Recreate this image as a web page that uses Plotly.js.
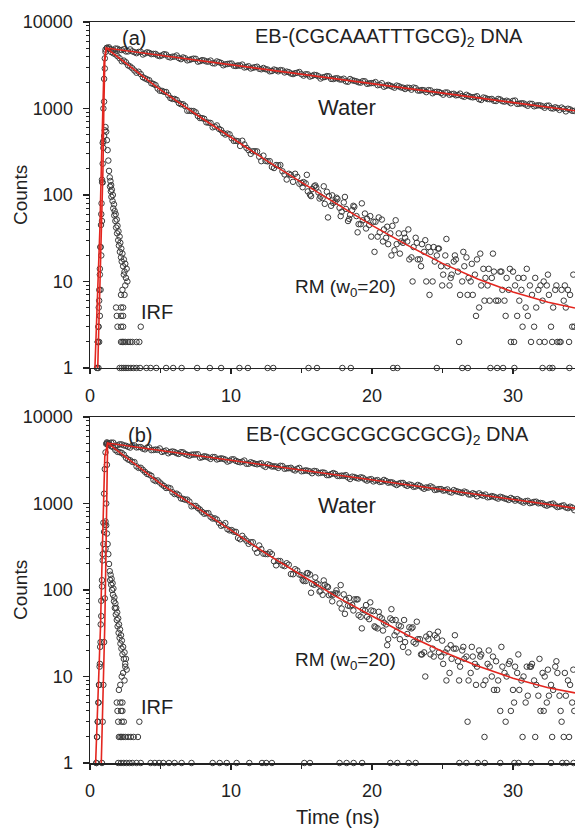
<!DOCTYPE html>
<html><head><meta charset="utf-8">
<script src="https://cdn.plot.ly/plotly-3.0.1.min.js"></script>
<style>html,body{margin:0;padding:0;background:#fff}#chart{width:575px;height:836px}</style>
</head><body><div id="chart"></div>
<script>
// ---------- data ----------
const tGrid = [1.2,1.5,1.8,2.1,2.4,2.7,3.0,3.3,3.6,3.9,4.2,4.5,4.8,5.1,5.4,5.7,6.0,6.3,6.6,6.9,7.2,7.5,7.8,8.1,8.4,8.7,9.0,9.3,9.6,9.9,10.2,10.5,10.8,11.1,11.4,11.7,12.0,12.3,12.6,12.9,13.2,13.5,13.8,14.1,14.4,14.7,15.0,15.3,15.6,15.9,16.2,16.5,16.8,17.1,17.4,17.7,18.0,18.3,18.6,18.9,19.2,19.5,19.8,20.1,20.4,20.7,21.0,21.3,21.6,21.9,22.2,22.5,22.8,23.1,23.4,23.7,24.0,24.3,24.6,24.9,25.2,25.5,25.8,26.1,26.4,26.7,27.0,27.3,27.6,27.9,28.2,28.5,28.8,29.1,29.4,29.7,30.0,30.3,30.6,30.9,31.2,31.5,31.8,32.1,32.4,32.7,33.0,33.3,33.6,33.9,34.2];
const tHalf = [1.35,1.65,1.95,2.25,2.55,2.85,3.15,3.45,3.75,4.05,4.35,4.65,4.95,5.25,5.55,5.85,6.15,6.45,6.75,7.05,7.35,7.65,7.95,8.25,8.55,8.85,9.15,9.45,9.75,10.05,10.35,10.65,10.95,11.25,11.55,11.85,12.15,12.45,12.75,13.05,13.35,13.65,13.95,14.25,14.55,14.85,15.15,15.45,15.75,16.05,16.35,16.65,16.95,17.25,17.55,17.85,18.15,18.45,18.75,19.05,19.35,19.65,19.95,20.25,20.55,20.85,21.15,21.45,21.75,22.05,22.35,22.65,22.95,23.25,23.55,23.85,24.15,24.45,24.75,25.05,25.35,25.65,25.95,26.25,26.55,26.85,27.15,27.45,27.75,28.05,28.35,28.65,28.95,29.25,29.55,29.85,30.15,30.45,30.75,31.05,31.35,31.65,31.95,32.25,32.55,32.85,33.15,33.45,33.75,34.05,34.35];
const tExtra = [15.08,15.38,15.68,15.98,16.28,16.58,16.88,17.18,17.48,17.78,18.08,18.38,18.68,18.98,19.28,19.58,19.88,20.18,20.48,20.78,21.08,21.38,21.68,21.98,22.28,22.58,22.88,23.18,23.48,23.78,24.08,24.38,24.68,24.98,25.28,25.58,25.88,26.18,26.48,26.78,27.08,27.38,27.68,27.98,28.28,28.58,28.88,29.18,29.48,29.78,30.08,30.38,30.68,30.98,31.28,31.58,31.88,32.18,32.48,32.78,33.08,33.38,33.68,33.98,34.28];

// panel (a)
const waterA = [5030,4820,4930,4760,4850,4570,4580,4360,4510,4330,4400,4280,4100,4110,4200,3890,3980,3830,3890,3600,3720,3750,3530,3590,3480,3340,3500,3360,3240,3300,3120,3150,3220,3020,2900,3000,2880,2940,2820,2710,2770,2780,2610,2630,2500,2590,2490,2490,2340,2450,2360,2290,2370,2200,2230,2170,2210,2040,2120,2060,1990,2060,1950,1970,1860,1960,1830,1830,1740,1810,1740,1740,1650,1720,1610,1620,1630,1500,1560,1510,1530,1440,1480,1430,1390,1440,1360,1360,1280,1340,1285,1290,1220,1270,1200,1200,1225,1130,1150,1110,1135,1060,1090,1058,1075,1008,1032,963,988,994,941];
const waterA2 = [5090,4720,4910,4740,4570,4820,4480,4510,4210,4460,4250,4280,4030,4240,3960,3970,4100,3720,3810,3650,3770,3480,3620,3500,3580,3320,3430,3160,3270,3310,3100,3130,2980,3080,2960,3040,2840,2850,2690,2820,2690,2760,2670,2540,2560,2640,2400,2480,2380,2430,2220,2310,2350,2190,2240,2160,2060,2190,2090,2010,2070,1930,1965,2020,1880,1785,1875,1785,1840,1755,1680,1730,1745,1615,1635,1545,1620,1550,1550,1445,1530,1470,1420,1485,1365,1395,1345,1385,1255,1320,1280,1230,1290,1215,1230,1150,1235,1135,1145,1075,1130,1080,1085,1020,1080,1000,1010,1025,926,974,938];
const rmA = [5020,4500,4230,3810,3580,3150,2920,2590,2500,2230,2120,1920,1700,1600,1550,1320,1290,1156,1119,942,936,902,775,760,686,606,637,562,500,502,422,418,424,350,299,320,277,285,245,211,222,222,173,176,142,162,138,136,101,126,107,92,109,75,84,71,82,50,67,57,46,61,45,49,33,52,32,36,23,36,28,29,19,32,18,22,25,10,20,15,20,9,17,13,10,19,10,12,5,14,9,11,6,13,6,8,13,4,8,5,9,3,8,6,9,3,8,2,6,8,3];
const rmA2 = [4880,4350,4030,3520,3420,3060,2750,2660,2300,2170,1960,1865,1605,1560,1425,1290,1255,1120,1065,942,934,819,774,692,680,617,581,520,513,453,423,369,384,330,320,319,246,248,246,205,220,188,151,171,176,135,141,110,117,122,96,79,97,81,90,64,69,59,73,46,51,53,33,49,37,40,27,44,27,29,32,18,25,18,27,10,22,17,24,12,15,12,18,7,15,11,7,18,9,11,6,13,6,8,11,2,9,6,11,4,7,5,9,2,7,5,2,8,5,7,3];
const rmAExtra = [123,171,97,129,91,126,55,99,93,57,95,53,75,37,80,41,57,22,55,29,43,20,51,21,36,40,10,28,15,30,7,25,24,9,31,11,20,2,22,7,16,4,21,6,14,21,1,13,4,14,2,11,3,14,2,11,2,10,12,2,9,2,9,2,12];
const riseAt = [0.5,0.55,0.6,0.65,0.7,0.75,0.8,0.85,0.9,0.95,1.0,1.05,1.1,0.6,0.65,0.7,0.75,0.8,0.85,0.9,0.95,1.0,1.05,1.1];
const riseAc = [1,2,3,6,12,25,60,150,400,1000,2200,3800,4800,1,2,4,8,20,50,140,420,1200,2900,4500];
const irfAt = [0.5,0.55,0.6,0.62,0.66,0.7,0.74,0.78,0.82,0.86,0.9,0.95,1.0,1.05,1.1,1.15,1.2,1.25,1.3,1.35,
  1.4,1.42,1.45,1.48,1.5,1.52,1.55,1.6,1.62,1.65,1.7,1.72,1.75,1.8,1.82,1.85,1.9,1.92,1.95,2.0,2.02,2.05,2.1,2.12,2.15,2.2,2.22,2.25,2.3,2.35,2.4,2.45,2.5,2.55,2.6,2.65,2.4,2.5,2.3,2.2,2.45,
  1.85,2.2,2.35,1.9,2.2,2.35,1.95,2.2,2.35,3.6,2.2,2.3,2.4,2.5,2.7,2.85,3.0,3.3,3.5,
  2.1,2.25,2.4,2.55,2.7,2.9,3.1,3.3,3.55,4.0,4.3,4.7,5.4,5.9,6.5,7.6,8.5,9.3,10.6,11.2,12.6,13.0,15.5,16.1,17.9,18.5,21.5,21.8,24.6,26.4,26.8,28.4,29.3,30.1,32.1,32.6,32.8,34.0];
const irfAc = [1,2,3,5,8,14,25,45,80,140,230,350,480,560,610,540,430,330,250,190,
  160,125,145,110,130,95,115,85,100,70,78,58,65,50,60,42,52,36,44,30,38,26,33,22,28,19,24,17,21,15,18,13,16,11,14,10,12,9,8,7,7,
  5,5,5,4,4,4,3,3,3,3,2,2,2,2,2,2,2,2,2,
  1,1,1,1,1,1,1,1,1,1,1,1,1,1,1,1,1,1,1,1,1,1,1,1,1,1,1,1,1,1,1,1,1,1,1,1,1,1];
const fitARmT = [0.35,0.5,0.6,0.7,0.8,0.9,1.0,1.15,3,5,7.8,10,12.5,15,17.5,20,22.5,25,27.5,30,32.5,34.4];
const fitARmC = [1,4,12,40,200,1000,3500,5000,2917,1641,798,466,251,140,78.2,44.5,26.3,16.2,10.7,7.57,5.75,4.94];
const fitAWT = [0.55,0.65,0.75,0.85,0.92,0.98,1.05,1.15,5,10,15,20,25,30,34.4];
const fitAWC = [1,4,12,40,200,1000,3500,5000,4119,3204,2492,1939,1508,1173,940];

// panel (b)
const waterB = [4960,5060,4660,4840,4700,4530,4690,4450,4490,4230,4460,4160,4170,3950,4100,3940,3940,3740,3900,3650,3670,3690,3390,3520,3400,3450,3230,3330,3220,3120,3240,3040,3050,2880,3000,2880,2880,2740,2840,2680,2675,2730,2520,2560,2470,2520,2360,2420,2350,2380,2240,2290,2130,2190,2200,2080,2090,2000,2045,1975,2010,1895,1895,1800,1865,1790,1820,1765,1690,1695,1730,1600,1635,1575,1600,1480,1525,1535,1450,1470,1425,1365,1430,1370,1325,1345,1270,1285,1310,1230,1180,1220,1170,1195,1145,1100,1125,1125,1055,1065,1010,1045,1005,1005,944,986,950,920,952,884,897];
const waterB2 = [4990,5050,4710,4820,4650,4430,4710,4490,4310,4430,4140,4210,4330,4020,3810,4000,3810,3920,3740,3570,3680,3710,3430,3480,3280,3440,3280,3290,3050,3240,3110,3000,3140,2880,2940,2840,2920,2650,2780,2690,2580,2710,2550,2590,2410,2580,2380,2390,2240,2360,2260,2260,2130,2250,2085,2105,2130,1920,2020,1945,1985,1840,1915,1845,1775,1875,1740,1750,1635,1730,1645,1660,1560,1640,1530,1535,1580,1435,1470,1410,1455,1340,1390,1345,1375,1275,1315,1210,1255,1270,1190,1200,1140,1175,1130,1160,1080,1085,1025,1075,1025,1050,1015,964,971,1000,910,940,901,919,839];
const rmB = [5090,4600,4150,3920,3670,3230,3030,2690,2590,2320,2160,1880,1850,1661,1512,1497,1287,1247,1131,1109,928,938,851,762,773,671,653,553,593,489,472,400,423,371,357,300,327,263,260,260,193,216,189,196,152,168,148,127,151,115,116,88,110,89,92,70,89,66,67,78,49,58,46,57,36,47,40,47,30,39,22,31,36,24,27,19,27,21,28,17,19,11,21,15,20,17,11,14,20,8,14,10,15,4,11,14,7,11,9,5,13,9,6,11,5,8,13,6,2,9,5];
const rmB2 = [4770,4470,3960,3850,3380,3160,3010,2580,2450,2200,2090,1820,1750,1595,1525,1350,1300,1145,1107,1052,939,888,802,772,702,674,598,564,505,493,470,386,393,342,357,270,297,261,273,215,217,193,204,153,174,151,127,157,118,120,98,115,87,88,91,61,77,65,78,51,59,49,58,37,49,42,27,45,33,38,25,37,25,27,18,29,18,30,19,14,21,16,21,13,16,9,17,13,18,9,13,7,9,13,10,4,13,7,10,6,14,8,4,10,6,7,11,3,6,8,4];
const rmBExtra = [131,156,93,140,96,129,108,74,99,114,53,81,58,78,36,67,72,38,56,34,23,60,45,27,45,19,37,43,18,10,31,17,33,26,9,23,30,9,22,3,22,8,17,2,20,17,7,22,3,15,5,18,2,13,13,2,16,4,12,2,15,4,11,2,12];
const riseBt = [0.45,0.5,0.55,0.6,0.65,0.7,0.75,0.8,0.85,0.9,0.95,1.0,1.05,1.1,1.15,0.85,0.9,0.95,1.0,1.05,1.1,1.15,1.2,1.25];
const riseBc = [1,2,3,5,8,14,25,50,110,260,600,1300,2500,3900,4900,1,3,8,25,80,300,1000,2800,4800];
const irfBt = [0.45,0.5,0.55,0.6,0.64,0.68,0.72,0.76,0.8,0.85,0.9,0.95,1.0,1.05,1.1,1.15,1.2,1.25,1.3,1.35,
  1.4,1.43,1.46,1.5,1.53,1.56,1.6,1.63,1.66,1.7,1.73,1.76,1.8,1.83,1.86,1.9,1.93,1.96,2.0,2.03,2.06,2.1,2.13,2.16,2.2,2.23,2.26,2.3,2.35,2.4,2.45,2.5,2.55,2.6,2.35,2.45,2.25,2.15,2.5,2.05,
  1.9,2.15,2.3,1.95,2.2,2.3,2.0,2.25,2.4,3.5,2.05,2.15,2.25,2.35,2.5,2.7,2.9,3.1,3.4,
  2.0,2.2,2.4,2.6,2.8,3.0,3.3,3.6,4.3,4.6,4.9,5.2,5.6,6.0,6.5,7.2,8.7,9.2,9.7,10.4,11.3,12.2,12.5,12.9,15.2,15.6,17.7,18.2,18.7,19.3,21.3,21.8,22.6,23.1,26.2,26.7,27.5,28.0,29.1,30.1,30.4,31.3,32.7,33.5,33.8,34.3];
const irfBc = [1,2,3,5,8,13,22,40,75,130,220,340,470,570,620,560,450,340,260,200,
  165,130,150,115,135,100,120,88,104,74,82,62,70,52,62,45,55,38,47,32,40,28,35,24,30,21,26,18,22,16,19,14,16,12,11,9,10,8,13,7,
  5,5,5,4,4,4,3,3,3,3,2,2,2,2,2,2,2,2,2,
  1,1,1,1,1,1,1,1,1,1,1,1,1,1,1,1,1,1,1,1,1,1,1,1,1,1,1,1,1,1,1,1,1,1,1,1,1,1,1,1,1,1,1,1,1,1];
const fitBRmT = [0.4,0.55,0.65,0.75,0.85,0.95,1.05,1.25,3,5,7.8,10,12.5,15,17.5,20,22.5,25,27.5,30,32.5,34.4];
const fitBRmC = [1,4,12,40,200,1000,3500,5000,3020,1698,851,490,263,148,83.2,50.1,30.2,19.5,13.2,9.55,7.41,6.46];
const fitBWT = [0.8,0.9,0.98,1.05,1.12,1.18,1.22,1.25,5,10,15,20,25,30,34.4];
const fitBWC = [1,4,12,40,200,1000,3500,5000,4110,3165,2438,1877,1446,1113,885];

// ticks
const xTickVals = [0,10,20,30];
const xTickText = ['0','10','20','30'];
const yTickVals = [1,10,100,1000,10000];
const yTickText = ['1','10','100','1000','10000'];

// ---------- drawing ----------
const F = 'Liberation Sans, Arial, Helvetica, sans-serif';
const INK = '#222';
const MARK = {symbol:'circle-open', size:5.5, color:'#3a3a3a', line:{width:1, color:'#3a3a3a'}};
function pts(x, y, xa, ya){
  return {x:x, y:y, xaxis:xa, yaxis:ya, type:'scatter', mode:'markers', marker:MARK,
          cliponaxis:false, hoverinfo:'skip', showlegend:false};
}
function fit(x, y, xa, ya){
  return {x:x, y:y, xaxis:xa, yaxis:ya, type:'scatter', mode:'lines',
          line:{color:'#e3261f', width:1.6}, cliponaxis:false, hoverinfo:'skip', showlegend:false};
}
const traces = [
  pts(irfAt, irfAc, 'x', 'y'), pts(riseAt, riseAc, 'x', 'y'),
  pts(tGrid, waterA, 'x', 'y'), pts(tHalf, waterA2, 'x', 'y'),
  pts(tGrid, rmA, 'x', 'y'), pts(tHalf, rmA2, 'x', 'y'), pts(tExtra, rmAExtra, 'x', 'y'),
  fit(fitAWT, fitAWC, 'x', 'y'), fit(fitARmT, fitARmC, 'x', 'y'),
  pts(irfBt, irfBc, 'x2', 'y2'), pts(riseBt, riseBc, 'x2', 'y2'),
  pts(tGrid, waterB, 'x2', 'y2'), pts(tHalf, waterB2, 'x2', 'y2'),
  pts(tGrid, rmB, 'x2', 'y2'), pts(tHalf, rmB2, 'x2', 'y2'), pts(tExtra, rmBExtra, 'x2', 'y2'),
  fit(fitBWT, fitBWC, 'x2', 'y2'), fit(fitBRmT, fitBRmC, 'x2', 'y2')
];

const yMinor = [];
[1,10,100,1000].forEach(d => { for (let m = 2; m <= 9; m++) yMinor.push(m*d); });

const tickFont = {family:F, size:18, color:INK};
const xCommon = {range:[0,34.4], showline:true, linecolor:INK, linewidth:1.5, mirror:true,
  ticks:'outside', ticklen:5, tickwidth:1.2, tickcolor:INK, tickvals:xTickVals, ticktext:xTickText,
  tickfont:tickFont, ticklabelstandoff:6,
  minor:{tickvals:[5,15,25], ticks:'outside', ticklen:4, tickwidth:1.2, tickcolor:INK, showgrid:false},
  showgrid:false, zeroline:false, fixedrange:true};
const yCommon = {type:'log', range:[0,4], showline:true, linecolor:INK, linewidth:1.5,
  ticks:'outside', ticklen:6, tickwidth:1.2, tickcolor:INK, tickvals:yTickVals, ticktext:yTickText,
  tickfont:tickFont, ticklabelstandoff:6,
  minor:{tickvals:yMinor, ticks:'outside', ticklen:3, tickwidth:1, tickcolor:INK, showgrid:false},
  showgrid:false, zeroline:false, fixedrange:true};

function px2x(px){ return (px - 90) / 485; }
function px2y(py){ return (763 - py) / 741; }
function ann(text, px, py, size, extra){
  return Object.assign({text:text, xref:'paper', yref:'paper', x:px2x(px), y:px2y(py),
    xanchor:'center', yanchor:'middle', showarrow:false, font:{family:F, size:size, color:INK}}, extra||{});
}

const layout = {
  width:575, height:836, paper_bgcolor:'#fff', plot_bgcolor:'#fff',
  margin:{l:90, r:0, t:22, b:73}, showlegend:false,
  xaxis: Object.assign({}, xCommon, {domain:[0,1], anchor:'y'}),
  yaxis: Object.assign({}, yCommon, {domain:[0.5331,1], anchor:'x'}),
  xaxis2: Object.assign({}, xCommon, {domain:[0,1], anchor:'y2'}),
  yaxis2: Object.assign({}, yCommon, {domain:[0,0.4669], anchor:'x2'}),
  annotations: [
    ann('(a)', 134, 38, 20),
    ann('EB-(CGCAAATTTGCG)<sub>2</sub> DNA', 389, 38, 20),
    ann('Water', 347, 108, 22),
    ann('RM (w<sub>0</sub>=20)', 345, 288, 19),
    ann('IRF', 157, 312, 20),
    ann('(b)', 140, 435, 20),
    ann('EB-(CGCGCGCGCGCG)<sub>2</sub> DNA', 387, 435, 20),
    ann('Water', 347, 505, 22),
    ann('RM (w<sub>0</sub>=20)', 345, 661, 19),
    ann('IRF', 157, 707, 20),
    ann('Counts', 20, 195, 19, {textangle:-90}),
    ann('Counts', 20, 590, 19, {textangle:-90}),
    ann('Time (ns)', 338, 817, 20)
  ]
};

Plotly.newPlot('chart', traces, layout, {staticPlot:true, displayModeBar:false});
</script>
</body></html>
